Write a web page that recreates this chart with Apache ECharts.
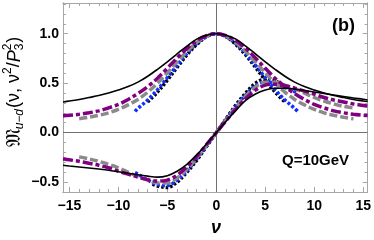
<!DOCTYPE html>
<html><head><meta charset="utf-8">
<script src="https://cdn.jsdelivr.net/npm/echarts@6/dist/echarts.min.js"></script>
<style>html,body{margin:0;padding:0;background:#fff}#c{width:374px;height:240px}</style>
</head><body><div id="c"></div>
<script>
// ---- data ----
const nuFull = [-15.65,-15,-14,-13,-12,-11,-10,-9,-8,-7,-6,-5,-4,-3,-2,-1,0,1,2,3,4,5,6,7,8,9,10,11,12,13,14,15,15.45];
const blackRe = [0.31,0.32,0.335,0.355,0.375,0.40,0.43,0.465,0.51,0.57,0.64,0.715,0.795,0.875,0.945,0.985,1.0,0.985,0.945,0.875,0.795,0.715,0.64,0.57,0.51,0.465,0.43,0.40,0.375,0.355,0.335,0.32,0.315];
const blackIm = [-0.33,-0.337,-0.347,-0.357,-0.368,-0.38,-0.395,-0.41,-0.425,-0.44,-0.45,-0.435,-0.39,-0.32,-0.225,-0.115,0,0.115,0.225,0.325,0.39,0.43,0.448,0.45,0.44,0.425,0.41,0.395,0.38,0.365,0.35,0.337,0.33];
const purpleRe = [0.17,0.175,0.185,0.20,0.22,0.25,0.285,0.335,0.395,0.465,0.55,0.65,0.755,0.85,0.93,0.98,1.0,0.98,0.93,0.85,0.755,0.65,0.55,0.465,0.395,0.335,0.285,0.25,0.22,0.20,0.185,0.175,0.172];
const purpleIm = [-0.265,-0.275,-0.29,-0.31,-0.33,-0.355,-0.39,-0.42,-0.45,-0.475,-0.49,-0.48,-0.43,-0.345,-0.24,-0.12,0,0.12,0.24,0.345,0.43,0.48,0.49,0.475,0.45,0.42,0.39,0.355,0.33,0.31,0.29,0.275,0.268];
const nuGray = [-14,-13,-12,-11,-10,-9,-8,-7,-6,-5,-4,-3,-2,-1,0,1,2,3,4,5,6,7,8,9,10,11,12,13,14];
const grayRe = [0.14,0.155,0.175,0.20,0.235,0.28,0.335,0.41,0.50,0.605,0.715,0.82,0.91,0.975,1.0,0.975,0.91,0.82,0.715,0.605,0.50,0.41,0.335,0.28,0.235,0.20,0.175,0.155,0.14];
const grayIm = [-0.245,-0.265,-0.29,-0.32,-0.355,-0.40,-0.445,-0.48,-0.51,-0.51,-0.46,-0.37,-0.255,-0.13,0,0.13,0.255,0.37,0.46,0.51,0.51,0.48,0.445,0.40,0.355,0.32,0.29,0.265,0.25];
const nuBlue = [-8.3,-8,-7,-6,-5,-4,-3,-2,-1,0,1,2,3,4,5,6,7,8,8.3];
const blueRe = [0.215,0.245,0.33,0.435,0.555,0.68,0.80,0.90,0.97,1.0,0.97,0.90,0.80,0.68,0.555,0.435,0.33,0.245,0.215];
const blueIm = [-0.405,-0.42,-0.48,-0.525,-0.535,-0.48,-0.385,-0.265,-0.135,0,0.135,0.265,0.38,0.475,0.51,0.50,0.46,0.415,0.40];
const nuDotRe = [-7,-6,-5,-4,-3,-2,-1,0,1,2,3,4,5,6,7];
const dotRe = [0.31,0.41,0.53,0.66,0.785,0.89,0.97,1.0,0.97,0.89,0.785,0.66,0.53,0.41,0.31];
const nuDotIm = [-6.5,-6,-5,-4,-3,-2,-1,0,1,2,3,4,5,6,6.5];
const dotIm = [-0.52,-0.54,-0.555,-0.50,-0.40,-0.28,-0.14,0,0.14,0.28,0.40,0.50,0.54,0.52,0.50];
const xMajor = [-15,-10,-5,0,5,10,15];
const xMinor = [-15,-14,-13,-12,-11,-10,-9,-8,-7,-6,-5,-4,-3,-2,-1,0,1,2,3,4,5,6,7,8,9,10,11,12,13,14,15];
const yMajor = [-0.5,0,0.5,1.0];
const yMinor = [-0.6,-0.5,-0.4,-0.3,-0.2,-0.1,0,0.1,0.2,0.3,0.4,0.5,0.6,0.7,0.8,0.9,1.0,1.1,1.2,1.3];
// ---- chart ----
const frame = '#a6a6a6';
const F = "'Liberation Sans', Arial, sans-serif";
const fmt = v => { const s = (Math.abs(v) < 1e-9 ? 0 : v); return s < 0 ? '\u2212' + Math.abs(s) : String(s); };
const fmtY = v => { const s = (Math.abs(v) < 1e-9 ? 0 : v); return (s < 0 ? '\u2212' : '') + Math.abs(s).toFixed(1); };
function xAx(pos, vals, len, labels){
  return {type:'value', min:-15.65, max:15.45, position:pos,
    axisLine:{show:true, onZero:false, lineStyle:{color:frame, width:1}},
    axisTick:{show:true, inside:true, length:len, customValues:vals, lineStyle:{color:frame, width:1}},
    axisLabel:{show:labels, customValues:vals, formatter:fmt, margin:7, color:'#000', fontFamily:F, fontWeight:'bold', fontSize:14},
    splitLine:{show:false}};
}
function yAx(pos, vals, len, labels){
  return {type:'value', min:-0.6, max:1.31, position:pos,
    axisLine:{show:true, onZero:false, lineStyle:{color:frame, width:1}},
    axisTick:{show:true, inside:true, length:len, customValues:vals, lineStyle:{color:frame, width:1}},
    axisLabel:{show:labels, customValues:vals, formatter:fmtY, margin:4, color:'#000', fontFamily:F, fontWeight:'bold', fontSize:14},
    splitLine:{show:false}};
}
const zip = (a,b) => a.map((x,i)=>[x,b[i]]);
function ser(name, xs, ys, color, width, dash, z){
  return {name, type:'line', data:zip(xs,ys), showSymbol:false, symbol:'none', smooth:0.35, z,
    lineStyle:{color, width, type:dash, cap:'butt'}, xAxisIndex:0, yAxisIndex:0, animation:false};
}
// y-axis label pieces
const ctx = document.createElement('canvas').getContext('2d');
function tw(t, f){ ctx.font = f; return ctx.measureText(t).width; }
const fm = "20px 'DejaVu Serif', 'DejaVu Sans', serif";
const fb = "18px " + F;
const fbi = "italic 18px " + F;
const fs = "12px " + F;
const fsi = "italic 12px " + F;
const pieces = [];
let px = 0;
function put(t, f, dy, adv){ pieces.push({type:'text', x:px, y:dy, style:{text:t, font:f, fill:'#000', verticalAlign:'middle', align:'left'}}); if(adv!==false) px += tw(t,f); }
put('\u{1D510}', fm, 0);
put('u\u2212d', fsi, 5);
px += 1;
put('(\u03bd, \u03bd', fb, 0);
put('2', fs, -7);
put('/', fb, 0);
put('P', fbi, 0);
put('2', fs, -7, false);
put('3', fs, 5);
px += 1;
put(')', fb, 0);
const labelLen = px;
const option = {
  animation:false,
  grid:{left:63, right:5, top:3, bottom:48, containLabel:false},
  xAxis:[xAx('bottom', xMajor, 5, true), xAx('bottom', xMinor, 3, false), xAx('top', xMajor, 5, false), xAx('top', xMinor, 3, false)],
  yAxis:[yAx('left', yMajor, 5, true), yAx('left', yMinor, 3, false), yAx('right', yMajor, 5, false), yAx('right', yMinor, 3, false)],
  series:[
    Object.assign(ser('dotRe', nuDotRe, dotRe, '#000', 3.5, [2.5,2], 2), {markLine:{silent:true, symbol:'none', label:{show:false}, animation:false,
      lineStyle:{color:'#707070', width:1, type:'solid'}, data:[{xAxis:0},{yAxis:0}]}}),
    ser('dotIm', nuDotIm, dotIm, '#000', 3.5, [2.5,2], 2),
    ser('blueRe', nuBlue, blueRe, '#1030ff', 3.5, [3,2], 3),
    ser('blueIm', nuBlue, blueIm, '#1030ff', 3.5, [3,2], 3),
    ser('grayRe', nuGray, grayRe, '#8a8a8a', 3.5, [8,3], 4),
    ser('grayIm', nuGray, grayIm, '#8a8a8a', 3.5, [8,3], 4),
    ser('purpleRe', nuFull, purpleRe, '#800080', 3.5, [10,3,4,3], 5),
    ser('purpleIm', nuFull, purpleIm, '#800080', 3.5, [10,3,4,3], 5),
    ser('blackRe', nuFull, blackRe, '#000', 1.6, 'solid', 6),
    ser('blackIm', nuFull, blackIm, '#000', 1.6, 'solid', 6)
  ],
  graphic:[
    {type:'text', left:332, top:17, style:{text:'(b)', font:"bold 18px " + F, fill:'#000'}},
    {type:'text', left:282, top:153, style:{text:'Q=10GeV', font:"bold 15px " + F, fill:'#000'}},
    {type:'text', left:211, top:219, style:{text:'\u03bd', font:"bold italic 18px " + F, fill:'#000'}},
    {type:'group', x:14.5, y:92 + labelLen/2, rotation:Math.PI/2, children:pieces}
  ]
};
const chart = echarts.init(document.getElementById('c'), null, {renderer:'canvas'});
chart.setOption(option);
</script></body></html>
